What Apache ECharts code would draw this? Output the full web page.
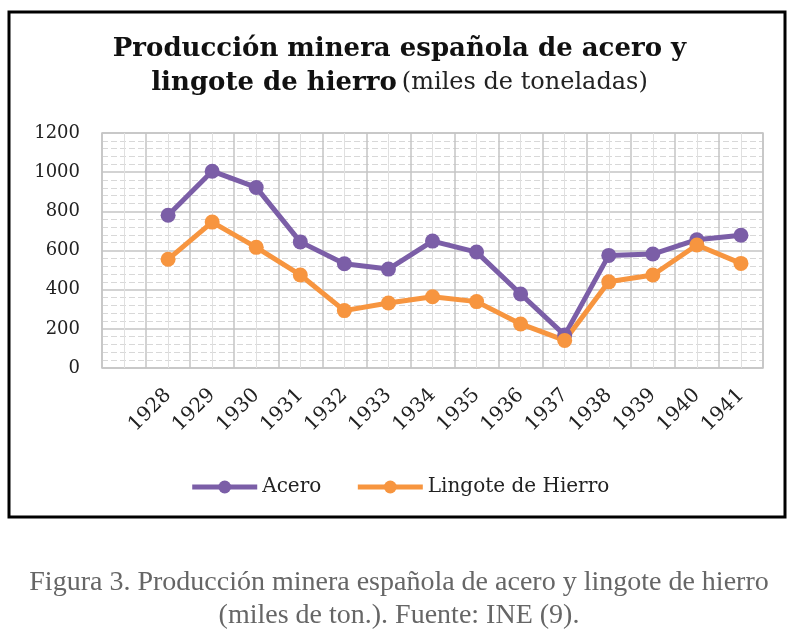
<!DOCTYPE html>
<html lang="es">
<head>
  <meta charset="utf-8">
  <title>Producción minera española de acero y lingote de hierro</title>
  <style>
    html, body { margin: 0; padding: 0; background: #fff; }
  </style>
</head>
<body>
  <div id="chart" style="width: 799px; height: 644px;"></div>
  <script src="https://cdn.jsdelivr.net/npm/echarts@6/dist/echarts.min.js"></script>
  <script>
    // años (la primera banda del eje va vacía, como en el original)
    var years = ['1928', '1929', '1930', '1931', '1932', '1933', '1934',
                 '1935', '1936', '1937', '1938', '1939', '1940', '1941'];
    // miles de toneladas
    var acero = [780, 1005, 922, 644, 532, 505, 648, 592, 378, 168, 575, 582, 655, 678];
    var lingote = [555, 745, 616, 475, 293, 332, 364, 339, 225, 141, 440, 475, 628, 534];
    var yTicks = [0, 200, 400, 600, 800, 1000, 1200];

    var serif = '"DejaVu Serif", "Liberation Serif", serif';
    var purple = '#7b5ea7';
    var orange = '#f7953f';
    var gridGray = '#c4c4c4';

    var cats = [''].concat(years);
    var chart = echarts.init(document.getElementById('chart'));

    var option = {
      backgroundColor: '#fff',
      animation: false,
      title: {
        left: 'center',
        top: 27,
        text: '{b|Producción minera española de acero y}\n{b|lingote de hierro} {n|(miles de toneladas)}',
        textStyle: {
          rich: {
            b: { fontFamily: serif, fontWeight: 'bold', fontSize: 26, color: '#111', lineHeight: 34 },
            n: { fontFamily: serif, fontWeight: 'normal', fontSize: 24, color: '#222', lineHeight: 34 }
          }
        }
      },
      legend: {
        top: 472,
        left: 'center',
        itemWidth: 65,
        itemHeight: 16,
        itemGap: 34,
        lineStyle: { width: 5 },
        textStyle: { fontFamily: serif, fontSize: 20, color: '#222' },
        data: ['Acero', 'Lingote de Hierro']
      },
      grid: {
        left: 102, right: 36, top: 133, bottom: 276,
        show: true, borderColor: gridGray, borderWidth: 1.5
      },
      xAxis: [
        {
          type: 'category',
          data: cats,
          axisLine: { show: false },
          axisTick: { show: false },
          splitLine: { show: true, interval: 0, lineStyle: { color: gridGray, width: 1.5 } },
          axisLabel: {
            interval: 0, rotate: 45, margin: 24,
            fontFamily: serif, fontSize: 20, color: '#222'
          }
        },
        {
          // rejilla menor vertical (mitad de cada banda)
          type: 'value',
          min: 0, max: cats.length, interval: 1,
          axisLine: { show: false },
          axisTick: { show: false },
          axisLabel: { show: false },
          splitLine: { show: false },
          minorTick: { show: false, splitNumber: 2 },
          minorSplitLine: { show: true, lineStyle: { color: '#e0e0e0', width: 1 } }
        }
      ],
      yAxis: {
        type: 'value',
        min: yTicks[0], max: yTicks[yTicks.length - 1], interval: 200,
        axisLine: { show: false },
        axisTick: { show: false },
        axisLabel: {
          margin: 22, fontFamily: serif, fontSize: 18, color: '#222',
          formatter: function (v) { return String(v); }
        },
        splitLine: { lineStyle: { color: gridGray, width: 1.5 } },
        minorTick: { show: false, splitNumber: 5 },
        minorSplitLine: { show: true, lineStyle: { color: '#d8d8d8', width: 1, type: [6, 3] } }
      },
      series: [
        {
          name: 'Acero',
          type: 'line',
          data: [null].concat(acero),
          color: purple,
          lineStyle: { width: 5, color: purple },
          symbol: 'circle', symbolSize: 15,
          itemStyle: { color: purple }
        },
        {
          name: 'Lingote de Hierro',
          type: 'line',
          data: [null].concat(lingote),
          color: orange,
          lineStyle: { width: 5, color: orange },
          symbol: 'circle', symbolSize: 15,
          itemStyle: { color: orange }
        }
      ],
      graphic: [
        {
          type: 'rect',
          shape: { x: 9, y: 12, width: 776, height: 505 },
          style: { fill: 'none', stroke: '#000', lineWidth: 3 },
          silent: true
        },
        {
          type: 'text',
          x: 399, y: 566,
          style: {
            text: 'Figura 3. Producción minera española de acero y lingote de hierro\n(miles de ton.). Fuente: INE (9).',
            fontFamily: '"Liberation Serif", serif',
            fontSize: 28, lineHeight: 33,
            fill: '#666', align: 'center'
          }
        }
      ]
    };

    chart.setOption(option);
  </script>
</body>
</html>
